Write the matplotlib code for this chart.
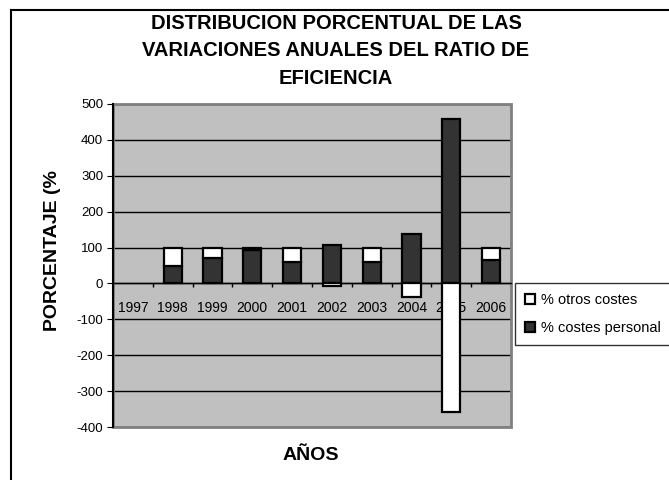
import numpy as np
import matplotlib
matplotlib.use("Agg")
import matplotlib.pyplot as plt
from matplotlib.patches import Rectangle

plt.rcParams['font.family'] = ['Liberation Sans', 'DejaVu Sans']
plt.rcParams['axes.unicode_minus'] = False

# data
years = ['1997', '1998', '1999', '2000', '2001', '2002', '2003', '2004', '2005', '2006']
costes_personal = [np.nan, 50, 72, 94, 61, 106, 61, 138, 457, 66]
otros_costes = [np.nan, 50, 28, 6, 39, -6, 39, -38, -357, 34]

personal = np.array(costes_personal)
otros = np.array(otros_costes)
# excel style stacking: negatives stack down from zero
otros_bottom = np.where(otros >= 0, personal, 0)

fig = plt.figure(figsize=(6.69, 4.8), dpi=100)
ax = fig.add_axes([113 / 669, 1 - 427 / 480, (511 - 113) / 669, (427 - 104) / 480])
ax.set_facecolor('#C0C0C0')

x = np.arange(len(years))
w = 0.46
ax.bar(x, personal, w, color='#333333', edgecolor='black', linewidth=1.6,
       label='% costes personal', zorder=3)
ax.bar(x, otros, w, bottom=otros_bottom, color='white', edgecolor='black',
       linewidth=1.6, label='% otros costes', zorder=3)

ax.set_xlim(-0.5, len(years) - 0.5)
ax.set_ylim(-400, 500)
ax.set_yticks(range(-400, 501, 100))
ax.yaxis.grid(True, color='black', linewidth=1)
ax.set_axisbelow(True)

ax.set_xticks(x)
ax.set_xticklabels(years, fontsize=7.2)
ax.set_xticks(np.arange(-0.5, len(years), 1), minor=True)
ax.tick_params(axis='x', which='major', length=0, pad=13)
ax.tick_params(axis='x', which='minor', length=3, direction='out', width=1)
ax.tick_params(axis='y', length=4, direction='out', labelsize=9.5, pad=3)

ax.spines['bottom'].set_position(('data', 0))
ax.spines['bottom'].set_linewidth(1)
for s in ['top', 'right']:
    ax.spines[s].set_visible(False)
ax.spines['left'].set_linewidth(1.5)

# gray plot-area border
ax.add_patch(Rectangle((0, 0), 1, 1, transform=ax.transAxes, fill=False,
                       edgecolor='#808080', linewidth=2, clip_on=False, zorder=1))

fig.text(336 / 669, 1 - 51 / 480,
         'DISTRIBUCION PORCENTUAL DE LAS\nVARIACIONES ANUALES DEL RATIO DE\nEFICIENCIA',
         ha='center', va='center', fontsize=14.5, fontweight='bold', linespacing=1.55)
fig.text(53 / 669, 1 - 251 / 480, 'PORCENTAJE (%', rotation=90, ha='center',
         va='center', fontsize=14, fontweight='bold')
fig.text(311 / 669, 1 - 456 / 480, 'AÑOS', ha='center', va='center',
         fontsize=14, fontweight='bold')

handles, labels = ax.get_legend_handles_labels()
leg = fig.legend(handles[::-1], labels[::-1], loc='upper left',
                 bbox_to_anchor=(515 / 669, 1 - 283 / 480), fontsize=10.5,
                 frameon=True, fancybox=False, edgecolor='black',
                 handlelength=0.7, handleheight=0.7, handletextpad=0.4,
                 labelspacing=0.95, borderpad=0.7, borderaxespad=0)
leg.get_frame().set_linewidth(1)

# outer chart frame (left and top visible)
fig.add_artist(plt.Line2D([11 / 669, 11 / 669], [0, 1 - 10 / 480], color='black',
                          linewidth=1.5, transform=fig.transFigure))
fig.add_artist(plt.Line2D([11 / 669, 1], [1 - 10 / 480, 1 - 10 / 480], color='black',
                          linewidth=1.5, transform=fig.transFigure))

fig.savefig('out.png', dpi=100)
